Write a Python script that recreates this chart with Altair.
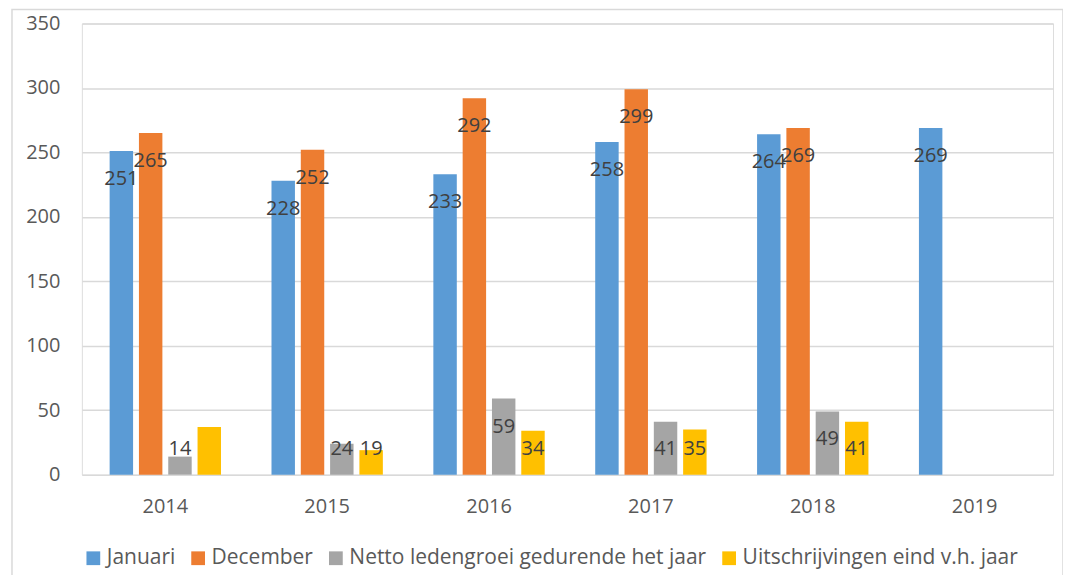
import altair as alt
import pandas as pd

years = ["2014", "2015", "2016", "2017", "2018", "2019"]
series = ["Januari", "December", "Netto ledengroei gedurende het jaar", "Uitschrijvingen eind v.h. jaar"]
januari = [251, 228, 233, 258, 264, 269]
december = [265, 252, 292, 299, 269, None]
netto = [14, 24, 59, 41, 49, None]
uitschrijvingen = [37, 19, 34, 35, 41, None]
# which values carry a data label in the original
show_label = {
    "Januari": [True, True, True, True, True, True],
    "December": [True, True, True, True, True, False],
    "Netto ledengroei gedurende het jaar": [True, True, True, True, True, False],
    "Uitschrijvingen eind v.h. jaar": [False, True, True, True, True, False],
}
colors = ["#5b9bd5", "#ed7d31", "#a5a5a5", "#ffc000"]
y_ticks = [0, 50, 100, 150, 200, 250, 300, 350]

rows = []
for s, vals in zip(series, [januari, december, netto, uitschrijvingen]):
    for i, (y, v) in enumerate(zip(years, vals)):
        rows.append({"year": y, "series": s, "value": v, "show": show_label[s][i]})
df = pd.DataFrame(rows)

FONT = "Open Sans"
W, H = 973, 452

x_enc = alt.X("year:N", sort=years, title=None,
              scale=alt.Scale(paddingInner=0.312, paddingOuter=0.156, align=0.55),
              axis=alt.Axis(labelAngle=0, domain=False, ticks=False, labelPadding=22,
                            labelFontSize=20, labelColor="#595959", labelFont=FONT))
xo_enc = alt.XOffset("series:N", sort=series,
                     scale=alt.Scale(domain=series, paddingInner=0.2, paddingOuter=0))
y_scale = alt.Scale(domain=[0, 350], nice=False)

bars = alt.Chart(df).mark_bar().encode(
    x=x_enc,
    xOffset=xo_enc,
    y=alt.Y("value:Q", scale=y_scale, title=None,
            axis=alt.Axis(values=y_ticks, domain=False, ticks=False, tickSize=0, labelPadding=22,
                          labelFontSize=20, labelColor="#595959", labelFont=FONT,
                          gridColor="#d9d9d9", gridWidth=1.5)),
    color=alt.Color("series:N", sort=series,
                    scale=alt.Scale(domain=series, range=colors),
                    legend=alt.Legend(title=None, orient="none", direction="horizontal",
                                      legendX=1, legendY=525, symbolType="square",
                                      symbolSize=190, symbolStrokeWidth=0,
                                      labelFontSize=21, labelColor="#595959", labelFont=FONT,
                                      labelLimit=600, labelOffset=3, columnPadding=12)),
)

labels = alt.Chart(df).transform_filter("datum.show && isValid(datum.value)").transform_calculate(
    labelY="max(datum.value - 21.7, 20)"
).mark_text(baseline="middle", align="center", fontSize=20, color="#404040", font=FONT).encode(
    x=alt.X("year:N", sort=years, title=None),
    xOffset=xo_enc,
    y=alt.Y("labelY:Q", scale=y_scale, title=None),
    text=alt.Text("value:Q"),
)

frame = alt.Chart(alt.Data(values=[{}])).mark_rect(
    filled=False, stroke="#d9d9d9", strokeWidth=1.5
).encode(
    x=alt.value(-70), x2=alt.value(W + 10),
    y=alt.value(-14), y2=alt.value(H + 120),
)

chart = alt.layer(frame, bars, labels).properties(
    width=W, height=H,
    autosize=alt.AutoSizeParams(type="none"),
    padding={"left": 74, "top": 15, "right": 10, "bottom": 100},
).configure_view(stroke=None).configure(font=FONT)

chart.save("out.html", embed_options={"renderer": "svg", "actions": False})
